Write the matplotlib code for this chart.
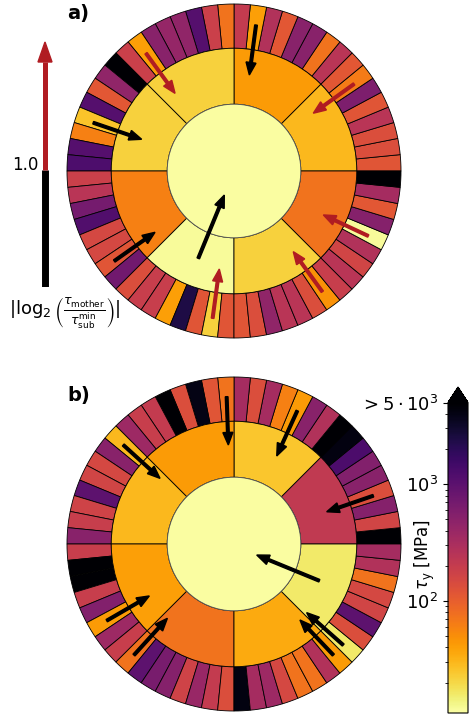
import numpy as np
import matplotlib
matplotlib.use('Agg')
import matplotlib.pyplot as plt
from matplotlib.patches import Wedge, Circle, Polygon
from matplotlib.colors import LogNorm
from matplotlib.cm import ScalarMappable

# yield stress [MPa], outer ring: 64 segments counter-clockwise from 3 o'clock
outer_a = [119, 134, 134, 245, 119, 605, 65, 112, 245, 73, 505, 505, 112, 276, 40, 204,
           73, 181, 1107, 448, 420, 505, 40, 181, 8000, 448, 112, 1107, 26, 61, 1107, 1248,
           181, 245, 682, 1175, 151, 151, 119, 726, 134, 192, 192, 40, 2427, 119, 22, 119,
           119, 134, 448, 245, 245, 134, 48, 192, 245, 161, 276, 12, 537, 112, 331, 8000]
mid_a = [30, 42, 22, 22, 61, 12, 22, 73]
center_a = 11.5

outer_b = [8000, 161, 537, 134, 505, 560, 1250, 4200, 8000, 276, 505, 42, 61, 331, 134, 331,
           73, 119, 4000, 134, 8000, 204, 192, 373, 30, 505, 151, 161, 980, 170, 192, 505,
           192, 8000, 8000, 192, 560, 42, 373, 192, 73, 980, 650, 530, 170, 400, 204, 134,
           4200, 331, 373, 151, 73, 73, 276, 42, 16, 134, 980, 161, 151, 73, 276, 331]
mid_b = [217, 25, 42, 30, 40, 73, 35, 16]
center_b = 11.5

# arrows: tail x, tail y, head x, head y (disc radius = 1), |log2(tau_mother / tau_sub^min)|
arrows_a = [(0.132, 0.874, 0.092, 0.575, 0.6),
            (-0.527, 0.705, -0.353, 0.465, 1.5),
            (0.719, 0.521, 0.475, 0.346, 1.5),
            (-0.843, 0.289, -0.553, 0.190, 0.6),
            (-0.214, -0.523, -0.058, -0.144, 0.6),
            (-0.717, -0.539, -0.473, -0.367, 0.6),
            (-0.128, -0.882, -0.088, -0.587, 1.5),
            (0.529, -0.723, 0.355, -0.483, 1.5),
            (0.804, -0.389, 0.535, -0.263, 1.5)]
arrows_b = [(-0.044, 0.882, -0.034, 0.593, 0.6),
            (0.379, 0.798, 0.256, 0.527, 0.6),
            (-0.663, 0.593, -0.443, 0.393, 0.6),
            (0.834, 0.289, 0.555, 0.193, 0.6),
            (0.511, -0.220, 0.136, -0.066, 0.6),
            (-0.762, -0.459, -0.507, -0.311, 0.6),
            (-0.599, -0.665, -0.399, -0.445, 0.6),
            (0.654, -0.605, 0.435, -0.411, 0.6),
            (0.595, -0.665, 0.395, -0.455, 0.6)]

legend_max = 2.1
red = '#b01c22'

cmap = plt.get_cmap('inferno_r')
norm = LogNorm(vmin=11, vmax=5000)
r_in, r_mid, r_out = 0.40, 0.735, 1.0


def draw_disc(ax, outer, mid, center, arrows):
    n = len(outer)
    for i, v in enumerate(outer):
        ax.add_patch(Wedge((0, 0), r_out, i * 360 / n, (i + 1) * 360 / n, width=r_out - r_mid,
                           facecolor=cmap(norm(v)), edgecolor='k', lw=0.6))
    m = len(mid)
    for i, v in enumerate(mid):
        ax.add_patch(Wedge((0, 0), r_mid, i * 360 / m, (i + 1) * 360 / m, width=r_mid - r_in,
                           facecolor=cmap(norm(v)), edgecolor='k', lw=0.6))
    ax.add_patch(Circle((0, 0), r_in, facecolor=cmap(norm(center)), edgecolor='#555', lw=0.6))
    for x0, y0, x1, y1, v in arrows:
        ax.arrow(x0, y0, x1 - x0, y1 - y0, width=0.016, head_width=0.06, head_length=0.075,
                 length_includes_head=True, color='k' if v <= 1 else red, zorder=5)
    ax.set_xlim(-1.05, 1.05)
    ax.set_ylim(-1.05, 1.05)
    ax.set_aspect('equal')
    ax.axis('off')


fig = plt.figure(figsize=(4.69, 7.16), dpi=100)
W, H = 469, 716

ax_a = fig.add_axes([58.65 / W, 369.65 / H, 350.7 / W, 350.7 / H])
draw_disc(ax_a, outer_a, mid_a, center_a, arrows_a)
ax_b = fig.add_axes([58.65 / W, -3.35 / H, 350.7 / W, 350.7 / H])
draw_disc(ax_b, outer_b, mid_b, center_b, arrows_b)

fig.text(67 / W, 1 - 14 / H, 'a)', fontsize=14, fontweight='bold', va='center')
fig.text(67 / W, 1 - 395 / H, 'b)', fontsize=14, fontweight='bold', va='center')

# legend arrow for |log2| values
lg = fig.add_axes([20 / W, (H - 287) / H, 50 / W, 245 / H])
lg.set_xlim(-1, 1)
lg.set_ylim(0, legend_max)
lg.axis('off')
head_len = 20 / 245 * legend_max
lg.plot([0, 0], [0, 1], color='k', lw=5, solid_capstyle='butt')
lg.plot([0, 0], [1, legend_max - head_len], color=red, lw=3.6, solid_capstyle='butt')
lg.add_patch(Polygon([(-0.28, legend_max - head_len), (0.28, legend_max - head_len), (0, legend_max)],
                     closed=True, color=red, clip_on=False))
lg.text(-0.28, 1, '1.0', ha='right', va='baseline', fontsize=12)
fig.text(65 / W, 1 - 312 / H,
         r'$|\log_2\left(\frac{\tau_{\rm mother}}{\tau_{\rm sub}^{\rm min}}\right)|$',
         ha='center', va='center', fontsize=13)

# colorbar
cax = fig.add_axes([448 / W, 3 / H, 20 / W, 326 / H])
sm = ScalarMappable(norm=norm, cmap=cmap)
cb = fig.colorbar(sm, cax=cax, extend='max')
cb.set_ticks([100, 1000, 5000])
cb.set_ticklabels([r'$10^2$', r'$10^3$', r'$>5\cdot10^3$'])
cax.yaxis.set_ticks_position('left')
cax.yaxis.set_label_position('left')
cax.tick_params(labelsize=13)
cb.set_label(r'$\tau_{\rm y}$ [MPa]', fontsize=12)
cax.yaxis.set_label_coords(-0.55, 0.51)

fig.savefig('out.png', dpi=100)
